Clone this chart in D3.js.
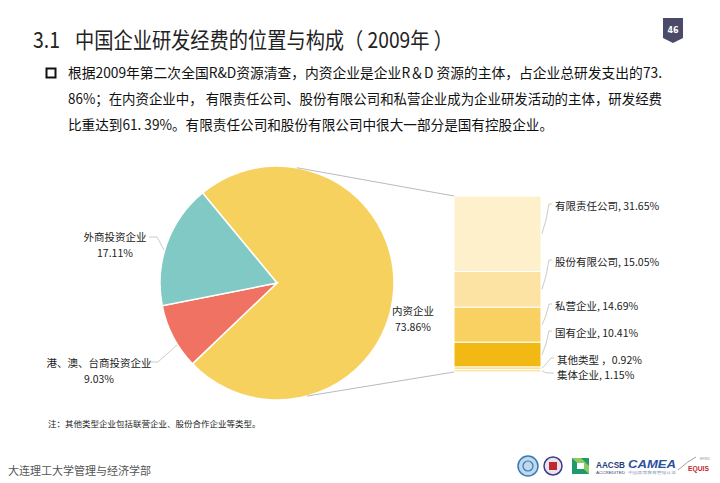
<!DOCTYPE html>
<html><head><meta charset="utf-8">
<script src="https://cdn.jsdelivr.net/npm/d3@7/dist/d3.min.js"></script>
<style>
body{margin:0;background:#fff;}
svg{display:block;font-family:"Noto Sans CJK SC","Noto Sans",sans-serif;}
</style></head>
<body>
<svg id="c" width="720" height="483"></svg>
<script>
// ---- data ----
const pieCategories = ["内资企业", "港、澳、台商投资企业", "外商投资企业"];
const pieValues = [73.86, 9.03, 17.11];
const barCategories = ["有限责任公司", "股份有限公司", "私营企业", "国有企业", "其他类型", "集体企业"];
const barValues = [31.65, 15.05, 14.69, 10.41, 0.92, 1.15];
const barLabels = ["有限责任公司, 31.65%", "股份有限公司, 15.05%", "私营企业, 14.69%", "国有企业, 10.41%", "其他类型 ，0.92%", "集体企业, 1.15%"];

const titleNum = "3.1";
const titleText = "中国企业研发经费的位置与构成（ 2009年 ）";
const bodyLines = [
  "根据2009年第二次全国R&D资源清查，内资企业是企业R＆D 资源的主体，占企业总研发支出的73.",
  "86%；在内资企业中， 有限责任公司、股份有限公司和私营企业成为企业研发活动的主体，研发经费",
  "比重达到61. 39%。有限责任公司和股份有限公司中很大一部分是国有控股企业。"
];
const note = "注：其他类型企业包括联营企业、股份合作企业等类型。";
const footer = "大连理工大学管理与经济学部";

const pieColors = ["#F7D15E", "#F07263", "#80C9C5"];
const barColors = ["#FDF0CA", "#FCE3A4", "#F9D162", "#F2B914", "#F7CE4E", "#FBE6A6"];

const svg = d3.select("#c");

// ---- header ----
svg.append("text").attr("x", 33).attr("y", 48).attr("font-size", 22).attr("fill", "#222")
  .attr("textLength", 27).attr("lengthAdjust", "spacingAndGlyphs").text(titleNum);
svg.append("text").attr("x", 75).attr("y", 48).attr("font-size", 22).attr("fill", "#222")
  .attr("xml:space", "preserve").style("white-space", "pre")
  .attr("textLength", 378).attr("lengthAdjust", "spacingAndGlyphs").text(titleText);

// page badge
svg.append("path").attr("d", "M663,18 H683 V38 L673,43 L663,38 Z").attr("fill", "#4B4A68");
svg.append("text").attr("x", 673).attr("y", 33).attr("text-anchor", "middle").attr("font-size", 8)
  .attr("font-weight", "bold").attr("fill", "#fff").attr("font-family", "DejaVu Sans").text("46");

// bullet
svg.append("rect").attr("x", 46.5).attr("y", 68.5).attr("width", 9).attr("height", 9)
  .attr("fill", "none").attr("stroke", "#111").attr("stroke-width", 2);
const lineW = [594, 594, 485];
bodyLines.forEach((t, i) => {
  svg.append("text").attr("x", 68).attr("y", 78 + i * 26).attr("font-size", 14).attr("fill", "#111")
    .attr("textLength", lineW[i]).attr("lengthAdjust", "spacingAndGlyphs").text(t);
});

// ---- pie ----
const cx = 277, cy = 283, R = 117;
const deg = Math.PI / 180;
const pie = d3.pie().sort(null).startAngle(-39.6 * deg).endAngle(-39.6 * deg + 2 * Math.PI);
const arcs = pie(pieValues);
const arc = d3.arc().innerRadius(0).outerRadius(R);
const g = svg.append("g").attr("transform", `translate(${cx},${cy})`);
g.selectAll("path").data(arcs).join("path")
  .attr("d", arc).attr("fill", (d, i) => pieColors[i]).attr("stroke", "#fff").attr("stroke-width", 1.5);

// ---- bar (pie of pie stack) ----
const barX0 = 454, barX1 = 541;
const total = d3.sum(barValues);
const y = d3.scaleLinear().domain([0, total]).range([196, 372]);
let cum = 0;
const segs = barValues.map((v, i) => { const s = { v, i, y0: cum, y1: cum + v }; cum += v; return s; });
svg.append("g").selectAll("rect").data(segs).join("rect")
  .attr("x", barX0).attr("width", barX1 - barX0)
  .attr("y", d => y(d.y0)).attr("height", d => y(d.y1) - y(d.y0))
  .attr("fill", d => barColors[d.i]).attr("stroke", "#fff").attr("stroke-width", 1);

// connector lines from pie to bar
const pt = a => [cx + R * Math.sin(a * deg), cy - R * Math.cos(a * deg)];
const pTop = pt(9.8), pBot = pt(165);
svg.append("line").attr("x1", pTop[0]).attr("y1", pTop[1]).attr("x2", barX0).attr("y2", y(0))
  .attr("stroke", "#A8A8A8").attr("stroke-width", 0.8);
svg.append("line").attr("x1", pBot[0]).attr("y1", pBot[1]).attr("x2", barX0).attr("y2", y(total))
  .attr("stroke", "#A8A8A8").attr("stroke-width", 0.8);

// bar labels
const labelY = [206, 262, 306, 333, 360, 375];
const lab = svg.append("g").attr("font-size", 10.5).attr("fill", "#222");
segs.forEach((s, i) => {
  const my = (y(s.y0) + y(s.y1)) / 2;
  const ly = labelY[i];
  const lx = i >= 4 ? 557 : 555;
  svg.append("path")
    .attr("d", `M${barX1 + 1},${my} L${barX1 + 5},${d3.min([my, ly]) + Math.abs(my - ly) * 0.5} L${lx - 6},${ly - 2} L${lx - 3},${ly - 2}`)
    .attr("fill", "none").attr("stroke", "#B5B5B5").attr("stroke-width", 0.7);
  lab.append("text").attr("x", lx).attr("y", ly + 4).text(barLabels[i]);
});

// pie labels
const pl = svg.append("g").attr("font-size", 10.5).attr("fill", "#222").attr("text-anchor", "middle");
pl.append("text").attr("x", 413).attr("y", 315).text(pieCategories[0]);
pl.append("text").attr("x", 413).attr("y", 331).text(pieValues[0].toFixed(2) + "%");
pl.append("text").attr("x", 115).attr("y", 241).text(pieCategories[2]);
pl.append("text").attr("x", 115).attr("y", 257).text(pieValues[2].toFixed(2) + "%");
pl.append("text").attr("x", 99).attr("y", 367).text(pieCategories[1]);
pl.append("text").attr("x", 99).attr("y", 383).text(pieValues[1].toFixed(2) + "%");
// pie leader lines
svg.append("path").attr("d", `M149,237 L157,237 L164,250`).attr("fill", "none").attr("stroke", "#B5B5B5").attr("stroke-width", 0.7);
svg.append("path").attr("d", `M151,362 L158,362 L177,345`).attr("fill", "none").attr("stroke", "#B5B5B5").attr("stroke-width", 0.7);

// note & footer
svg.append("text").attr("x", 48).attr("y", 427).attr("font-size", 8.5).attr("fill", "#222").text(note);
svg.append("text").attr("x", 8).attr("y", 475).attr("font-size", 11).attr("fill", "#555").text(footer);

// logos (simplified)
const lg = svg.append("g");
lg.append("circle").attr("cx", 528).attr("cy", 466).attr("r", 10).attr("fill", "#BFD8EC").attr("stroke", "#3A78B5").attr("stroke-width", 1.5);
lg.append("circle").attr("cx", 528).attr("cy", 466).attr("r", 5).attr("fill", "none").attr("stroke", "#3A78B5").attr("stroke-width", 1.2);
lg.append("circle").attr("cx", 553).attr("cy", 466).attr("r", 9).attr("fill", "#E8E4F0").attr("stroke", "#3B3C86").attr("stroke-width", 1.5);
lg.append("rect").attr("x", 549).attr("y", 462).attr("width", 8).attr("height", 8).attr("fill", "#C0282E");
lg.append("rect").attr("x", 572).attr("y", 458).attr("width", 17).attr("height", 16).attr("fill", "#1E9A6E");
lg.append("path").attr("d", "M572,458 L589,474 L589,466 L581,458 Z").attr("fill", "#8DCB62");
lg.append("rect").attr("x", 577).attr("y", 463).attr("width", 7).attr("height", 6).attr("fill", "#fff");
lg.append("text").attr("x", 596).attr("y", 468).attr("font-size", 9).attr("font-weight", "bold").attr("fill", "#1F3F7A").attr("font-family", "Liberation Sans")
  .attr("textLength", 29).attr("lengthAdjust", "spacingAndGlyphs").text("AACSB");
lg.append("text").attr("x", 596).attr("y", 474).attr("font-size", 4).attr("fill", "#1F3F7A").attr("font-family", "Liberation Sans")
  .attr("textLength", 29).attr("lengthAdjust", "spacingAndGlyphs").text("ACCREDITED");
lg.append("text").attr("x", 628).attr("y", 468).attr("font-size", 10).attr("font-weight", "bold").attr("font-style", "italic").attr("fill", "#2C4FA0").attr("font-family", "Liberation Sans")
  .attr("textLength", 48).attr("lengthAdjust", "spacingAndGlyphs").text("CAMEA");
lg.append("text").attr("x", 628).attr("y", 474).attr("font-size", 3.5).attr("fill", "#8899BB")
  .attr("textLength", 48).attr("lengthAdjust", "spacingAndGlyphs").text("中国高等教育管理认证");
lg.append("text").attr("x", 688).attr("y", 471).attr("font-size", 7).attr("font-weight", "bold").attr("fill", "#C0282E").attr("font-family", "Liberation Sans")
  .attr("textLength", 21).attr("lengthAdjust", "spacingAndGlyphs").text("EQUIS");
lg.append("text").attr("x", 700).attr("y", 460).attr("font-size", 3.5).attr("fill", "#999").attr("font-family", "Liberation Sans").text("EFMD");
lg.append("path").attr("d", "M678,470 Q688,461 696,457").attr("fill", "none").attr("stroke", "#888").attr("stroke-width", 0.8);
</script>
</body></html>
